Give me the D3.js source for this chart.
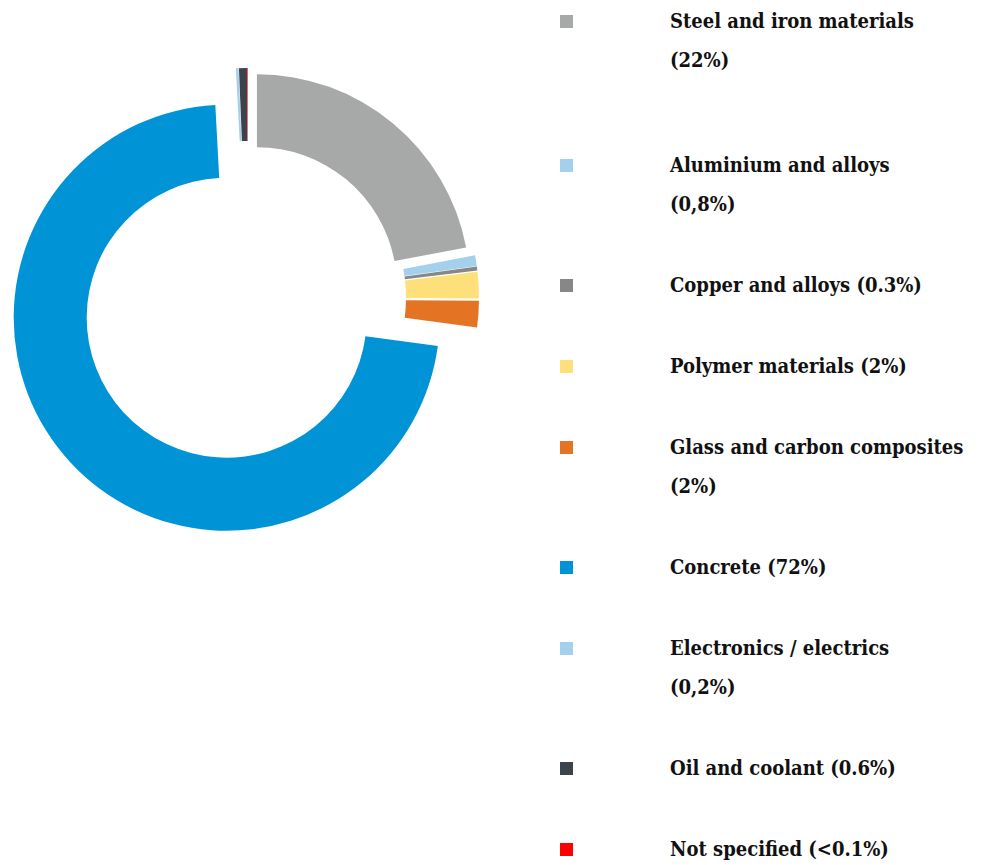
<!DOCTYPE html>
<html>
<head>
<meta charset="utf-8">
<script src="https://cdn.jsdelivr.net/npm/d3@7"></script>
<style>
  body { margin: 0; background: #fff; }
  svg { display: block; }
</style>
</head>
<body>
<div id="chart"></div>
<script>
// material shares, clockwise from 12 o'clock
const materials = ["Steel and iron materials", "Aluminium and alloys", "Copper and alloys",
  "Polymer materials", "Glass and carbon composites", "Concrete",
  "Electronics / electrics", "Oil and coolant", "Not specified"];
const shares = [22, 0.8, 0.3, 2, 2, 72, 0.2, 0.6, 0.05];
const legendLines = [
  ["Steel and iron materials", "(22%)"],
  ["Aluminium and alloys", "(0,8%)"],
  ["Copper and alloys (0.3%)"],
  ["Polymer materials (2%)"],
  ["Glass and carbon composites", "(2%)"],
  ["Concrete (72%)"],
  ["Electronics / electrics", "(0,2%)"],
  ["Oil and coolant (0.6%)"],
  ["Not specified (<0.1%)"]
];

const colors = ["#a7a8a8", "#a4d0ec", "#878787", "#fee07a", "#e57324",
  "#0094d7", "#a4d0ec", "#3b444c", "#ff0000"];
// how far each slice is pulled out of the ring
const explode = [14, 18, 18, 18, 18, 29, 17, 17, 17];

const width = 981, height = 865;
const cx = 248, cy = 298;
const outerR = 213, innerR = 140;

const svg = d3.select("#chart").append("svg")
  .attr("width", width)
  .attr("height", height);

const data = materials.map((m, i) => ({ name: m, value: shares[i], i }));

const pie = d3.pie()
  .sort(null)
  .value(d => d.value);

const arc = d3.arc()
  .innerRadius(innerR)
  .outerRadius(outerR);

const g = svg.append("g")
  .attr("transform", `translate(${cx},${cy})`);

g.selectAll("path")
  .data(pie(data))
  .join("path")
  .attr("fill", d => colors[d.data.i])
  .attr("transform", d => {
    const a = (d.startAngle + d.endAngle) / 2;
    const r = explode[d.data.i];
    return `translate(${Math.sin(a) * r},${-Math.cos(a) * r})`;
  })
  .attr("d", arc);

// legend
const lineH = 39, itemGap = 42;
const extraGap = [24, 0, 0, 0, 0, 0, 0, 0, 0];
let y = 28;
const rows = legendLines.map((lines, i) => {
  const row = { i, lines, y };
  y += (lines.length - 1) * lineH + lineH + itemGap + extraGap[i];
  return row;
});

const legend = svg.append("g")
  .style("font-family", "'DejaVu Serif Condensed', 'DejaVu Serif', serif")
  .style("font-stretch", "condensed")
  .style("font-weight", "bold")
  .style("font-size", "20px")
  .attr("fill", "#111");

const item = legend.selectAll("g")
  .data(rows)
  .join("g")
  .attr("transform", d => `translate(0,${d.y})`);

item.append("rect")
  .attr("x", 560)
  .attr("y", -13)
  .attr("width", 13)
  .attr("height", 13)
  .attr("fill", d => colors[d.i]);

item.selectAll("text")
  .data(d => d.lines)
  .join("text")
  .attr("x", 670)
  .attr("y", (d, j) => j * lineH)
  .text(d => d);
</script>
</body>
</html>
